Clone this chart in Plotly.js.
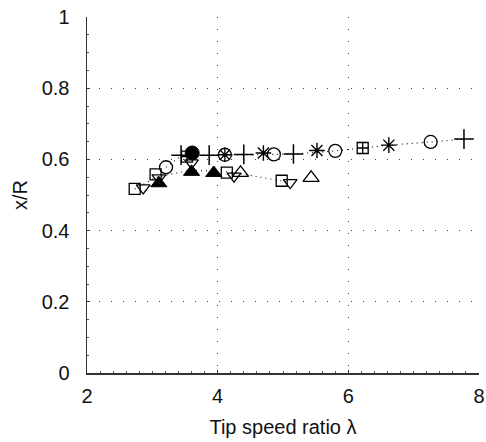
<!DOCTYPE html>
<html>
<head>
<meta charset="utf-8">
<script src="https://cdn.plot.ly/plotly-3.0.1.min.js"></script>
<style>html,body{margin:0;padding:0;background:#fff}#chart{width:486px;height:442px}</style>
</head>
<body>
<div id="chart"></div>
<script>
// Upper group (x/R ~ 0.6)
var circleOpenX = [3.21, 4.86, 5.80, 7.26];
var circleOpenY = [0.578, 0.614, 0.624, 0.649];
var plusX = [3.44, 3.87, 4.40, 5.16, 7.77];
var plusY = [0.612, 0.612, 0.614, 0.615, 0.657];
var filledCircleX = [3.61];
var filledCircleY = [0.618];
var circledStarX = [4.11];
var circledStarY = [0.613];
var asteriskX = [4.70, 5.52, 6.62];
var asteriskY = [0.618, 0.625, 0.640];
var squarePlusX = [3.53, 6.22];
var squarePlusY = [0.608, 0.632];
// Lower group (x/R ~ 0.55)
var squareX = [2.73, 3.05, 4.14, 4.98];
var squareY = [0.517, 0.558, 0.563, 0.540];
var triDownX = [2.86, 3.10, 3.60, 4.25, 5.11];
var triDownY = [0.520, 0.548, 0.590, 0.553, 0.535];
var filledTriX = [3.10, 3.60, 3.94];
var filledTriY = [0.533, 0.565, 0.562];
var openTriX = [4.35, 5.43];
var openTriY = [0.562, 0.548];
// Dotted trend lines
var upperLineX = [3.21, 3.44, 4.40, 5.16, 5.80, 6.62, 7.26, 7.77];
var upperLineY = [0.578, 0.610, 0.613, 0.615, 0.624, 0.640, 0.649, 0.657];
var lowerLineX = [2.73, 3.06, 3.60, 4.14, 4.35, 4.98, 5.11];
var lowerLineY = [0.517, 0.550, 0.570, 0.565, 0.560, 0.538, 0.535];

var xTickStep = 2;
var yTickStep = 0.2;

function mk(x, y, sym, size, w) {
  return {x: x, y: y, type: 'scatter', mode: 'markers', cliponaxis: false,
    marker: {symbol: sym, size: size, color: '#000', line: {color: '#000', width: w}}};
}
function ln(x, y) {
  return {x: x, y: y, type: 'scatter', mode: 'lines',
    line: {color: '#222', width: 1.2, dash: '1px,4px'}};
}
var data = [
  ln(upperLineX, upperLineY),
  ln(lowerLineX, lowerLineY),
  mk(squareX, squareY, 'square-open', 11, 1.3),
  mk(triDownX, triDownY, 'triangle-down-open', 12, 1.3),
  mk(filledTriX, filledTriY, 'triangle-up', 14, 1),
  mk(openTriX, openTriY, 'triangle-up-open', 14, 1.3),
  mk(circleOpenX, circleOpenY, 'circle-open', 13, 1.3),
  mk(plusX, plusY, 'cross-thin-open', 14, 1.5),
  mk(squarePlusX, squarePlusY, 'square-cross-open', 11, 1.3),
  mk(asteriskX, asteriskY, 'asterisk-open', 13, 1.4),
  mk(circledStarX, circledStarY, 'circle-open', 13, 1.3),
  mk(circledStarX, circledStarY, 'asterisk-open', 12, 1.3),
  mk(filledCircleX, filledCircleY, 'circle', 14, 1)
];

var font = {family: 'Liberation Sans, Arial, sans-serif', size: 20, color: '#111'};
var layout = {
  width: 486, height: 442,
  margin: {l: 87, r: 7, t: 17, b: 69},
  paper_bgcolor: '#fff', plot_bgcolor: '#fff',
  showlegend: false,
  font: font,
  xaxis: {
    range: [2, 8], tickmode: 'linear', tick0: 2, dtick: xTickStep,
    showline: true, linecolor: '#333', linewidth: 1.5, mirror: false,
    ticks: 'inside', ticklen: 3, tickcolor: '#333',
    showgrid: true, gridcolor: '#444', gridwidth: 1.2, griddash: '1px,11px',
    zeroline: false, tickfont: font, ticklabelstandoff: 4,
    ticklabeloverflow: 'allow',
    minor: {tickmode: 'linear', dtick: 0.2, ticks: 'inside', ticklen: 2, tickcolor: '#555', showgrid: false},
    title: {text: 'Tip speed ratio \u03bb', font: font, standoff: 14}
  },
  yaxis: {
    range: [0, 1], tickmode: 'linear', tick0: 0, dtick: yTickStep,
    showline: true, linecolor: '#333', linewidth: 1.5, mirror: false,
    ticks: 'inside', ticklen: 3, tickcolor: '#333',
    showgrid: true, gridcolor: '#444', gridwidth: 1.2, griddash: '1px,11px',
    zeroline: false, tickfont: font, ticklabelstandoff: 12,
    ticklabeloverflow: 'allow',
    minor: {tickmode: 'linear', dtick: 0.05, ticks: 'inside', ticklen: 2, tickcolor: '#555', showgrid: false},
    title: {text: 'x/R', font: font, standoff: 8}
  }
};
Plotly.newPlot('chart', data, layout, {staticPlot: true, displayModeBar: false});
</script>
</body>
</html>
